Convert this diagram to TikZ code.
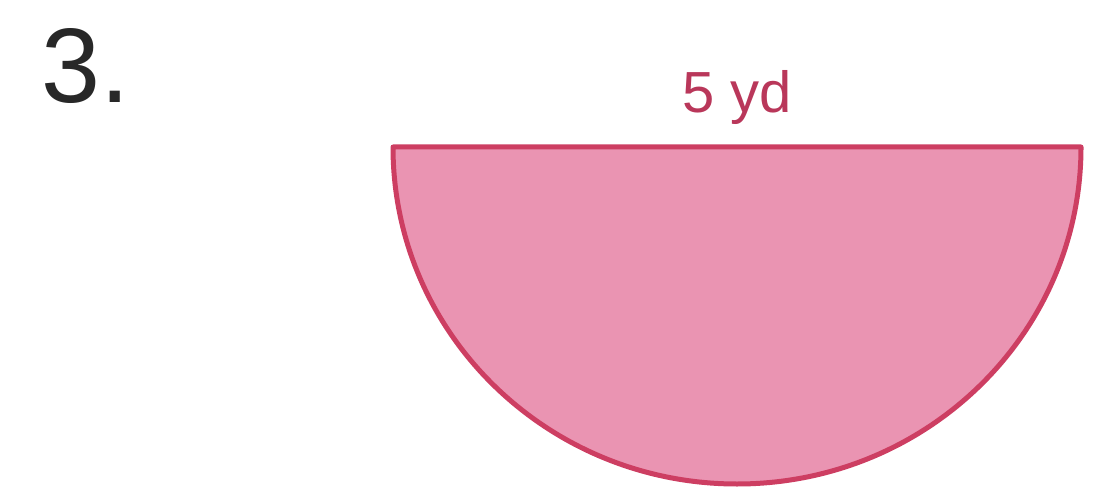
\documentclass[tikz,border=0pt]{standalone}
\usepackage{fontspec}
\setmainfont{Liberation Sans}
\definecolor{shapefill}{RGB}{234,148,178}
\definecolor{shapeedge}{RGB}{205,62,98}
\definecolor{labelcol}{RGB}{185,55,90}
\definecolor{numcol}{RGB}{40,40,40}
\tikzset{
  halfdisc/.style={fill=shapefill, draw=shapeedge, line width=5pt, line join=round},
  dimlabel/.style={text=labelcol, font=\fontsize{58}{58}\selectfont, inner sep=0pt, anchor=base},
  numlabel/.style={text=numcol, font=\fontsize{106}{106}\selectfont, inner sep=0pt, anchor=base west}
}
\begin{document}
\begin{tikzpicture}[x=1pt,y=-1pt]
\useasboundingbox (0,0) rectangle (1099,494);
\coordinate (tl) at (393,147);
\coordinate (tr) at (1081,147);
\draw[halfdisc] (tl) -- (tr) arc[start angle=0, end angle=-180, x radius=344, y radius=-337] -- cycle;
\node[dimlabel] (len) at (737,113) {5 yd};
\node[numlabel] (num) at (41,103) {3.};
\end{tikzpicture}
\end{document}
